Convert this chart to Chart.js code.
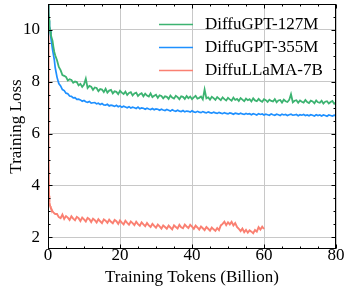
<!DOCTYPE html>
<html>
<head>
<meta charset="utf-8">
<script src="https://cdn.jsdelivr.net/npm/chart.js@4.4.0/dist/chart.umd.min.js"></script>
<style>
html, body { margin: 0; padding: 0; background: #fff; }
#wrap { width: 344px; height: 287px; }
</style>
</head>
<body>
<div id="wrap"><canvas id="lossChart" width="344" height="287"></canvas></div>
<script>
// tick labels
const xTicks = [0, 20, 40, 60, 80];
const yTicks = [2, 4, 6, 8, 10];

// training tokens (billion): dense at the start, then every 0.5
const earlyTokens = [0, 0.1, 0.2, 0.3, 0.4, 0.6, 0.8, 1.0, 1.25, 1.5, 1.75, 2.0];
const gptTokens = earlyTokens.concat(Array.from({ length: 156 }, (_, i) => 2.5 + 0.5 * i));
const llamaTokens = earlyTokens.concat(Array.from({ length: 116 }, (_, i) => 2.5 + 0.5 * i));

const seriesNames = ["DiffuGPT-127M", "DiffuGPT-355M", "DiffuLLaMA-7B"];
const seriesColors = ["#3cb371", "#1e90ff", "#fa8072"];

const loss127M = [
    11.6, 11.1, 10.7, 10.4, 10.15, 9.95, 9.8, 9.7, 9.58, 9.35, 9.15, 9.02,
    8.83, 8.57, 8.45, 8.26, 8.23, 8.19, 8.05, 8.1, 8.07, 7.96,
    8.01, 7.99, 7.86, 7.92, 7.8, 7.89, 8.12, 7.76, 7.84, 7.81,
    7.69, 7.78, 7.76, 7.64, 7.72, 7.7, 7.6, 7.73, 7.58, 7.66,
    7.69, 7.55, 7.63, 7.61, 7.52, 7.65, 7.58, 7.53, 7.62, 7.49,
    7.57, 7.6, 7.47, 7.55, 7.58, 7.45, 7.52, 7.56, 7.44, 7.54,
    7.47, 7.43, 7.55, 7.41, 7.46, 7.5, 7.38, 7.48, 7.45, 7.36,
    7.44, 7.42, 7.34, 7.47, 7.39, 7.35, 7.46, 7.41, 7.33, 7.44,
    7.42, 7.34, 7.45, 7.37, 7.43, 7.33, 7.4, 7.46, 7.35, 7.38,
    7.43, 7.32, 7.7, 7.36, 7.4, 7.31, 7.42, 7.37, 7.3, 7.41,
    7.35, 7.29, 7.4, 7.33, 7.28, 7.38, 7.32, 7.27, 7.39, 7.3,
    7.34, 7.26, 7.37, 7.31, 7.25, 7.35, 7.29, 7.33, 7.24, 7.36,
    7.28, 7.25, 7.34, 7.27, 7.23, 7.33, 7.29, 7.22, 7.31, 7.26,
    7.24, 7.33, 7.21, 7.28, 7.3, 7.2, 7.31, 7.25, 7.22, 7.3,
    7.52, 7.21, 7.27, 7.29, 7.19, 7.28, 7.23, 7.2, 7.3, 7.22,
    7.18, 7.27, 7.24, 7.17, 7.28, 7.21, 7.19, 7.27, 7.16, 7.23,
    7.25, 7.16, 7.22, 7.26, 7.15, 7.2
];

const loss355M = [
    11.6, 11.0, 10.6, 10.35, 10.15, 9.95, 9.7, 9.5, 9.25, 9.05, 8.85, 8.55,
    8.18, 7.93, 7.84, 7.7, 7.66, 7.56, 7.54, 7.45, 7.44, 7.38,
    7.39, 7.32, 7.33, 7.3, 7.25, 7.28, 7.23, 7.21, 7.24, 7.18,
    7.19, 7.2, 7.15, 7.17, 7.12, 7.16, 7.11, 7.1, 7.13, 7.07,
    7.1, 7.08, 7.05, 7.09, 7.04, 7.07, 7.02, 7.06, 7.03, 7.0,
    7.04, 6.99, 7.02, 7.0, 6.97, 7.02, 6.96, 6.99, 6.98, 6.94,
    6.98, 6.95, 6.93, 6.97, 6.92, 6.95, 6.94, 6.9, 6.94, 6.91,
    6.89, 6.93, 6.9, 6.87, 6.92, 6.88, 6.86, 6.9, 6.87, 6.85,
    6.89, 6.84, 6.87, 6.86, 6.83, 6.88, 6.84, 6.82, 6.86, 6.83,
    6.81, 6.85, 6.82, 6.8, 6.84, 6.81, 6.79, 6.83, 6.8, 6.78,
    6.82, 6.79, 6.77, 6.81, 6.78, 6.76, 6.8, 6.78, 6.75, 6.79,
    6.77, 6.75, 6.79, 6.76, 6.74, 6.78, 6.75, 6.77, 6.73, 6.77,
    6.75, 6.72, 6.77, 6.74, 6.76, 6.72, 6.75, 6.73, 6.71, 6.76,
    6.73, 6.71, 6.75, 6.73, 6.7, 6.75, 6.72, 6.74, 6.7, 6.73,
    6.75, 6.71, 6.72, 6.74, 6.69, 6.73, 6.71, 6.74, 6.7, 6.72,
    6.69, 6.73, 6.71, 6.68, 6.73, 6.7, 6.72, 6.68, 6.72, 6.7,
    6.67, 6.72, 6.7, 6.68, 6.71, 6.69
];

const loss7B = [
    11.6, 8.0, 5.2, 3.6, 3.35, 3.2, 3.12, 3.08, 3.0, 2.96, 2.93, 2.9,
    2.9, 2.78, 2.74, 2.88, 2.71, 2.82, 2.76, 2.67, 2.81, 2.72,
    2.66, 2.79, 2.74, 2.63, 2.76, 2.69, 2.61, 2.75, 2.7, 2.59,
    2.72, 2.66, 2.57, 2.7, 2.62, 2.55, 2.69, 2.64, 2.56, 2.68,
    2.6, 2.54, 2.67, 2.62, 2.52, 2.65, 2.57, 2.5, 2.64, 2.56,
    2.49, 2.61, 2.55, 2.47, 2.6, 2.51, 2.45, 2.58, 2.5, 2.43,
    2.55, 2.46, 2.4, 2.52, 2.44, 2.37, 2.49, 2.42, 2.34, 2.46,
    2.4, 2.33, 2.45, 2.38, 2.31, 2.46, 2.4, 2.34, 2.48, 2.39,
    2.35, 2.49, 2.42, 2.36, 2.48, 2.41, 2.33, 2.45, 2.38, 2.3,
    2.42, 2.35, 2.28, 2.4, 2.33, 2.26, 2.38, 2.31, 2.25, 2.36,
    2.28, 2.46, 2.52, 2.6, 2.47, 2.58, 2.5, 2.6, 2.46, 2.55,
    2.4, 2.33, 2.24, 2.34, 2.2, 2.29, 2.18, 2.27, 2.22, 2.16,
    2.28, 2.22, 2.39, 2.3, 2.41, 2.32
];

const serif = "'Liberation Serif', 'DejaVu Serif', serif";

function toPoints(xs, ys) {
    return ys.map((v, i) => ({ x: xs[i], y: v }));
}

// box on all four sides + inward ticks (major and minor), like matplotlib
const frameTicks = {
    id: "frameTicks",
    afterDatasetsDraw(chart) {
        const { ctx, chartArea: a, scales } = chart;
        const sx = scales.x, sy = scales.y;
        const L = Math.round(a.left) + 0.5, R = Math.round(a.right) - 0.5;
        const T = Math.round(a.top) + 0.5, B = Math.round(a.bottom) - 0.5;
        ctx.save();
        ctx.strokeStyle = "#000";
        ctx.lineWidth = 1;
        ctx.beginPath();
        for (let v = xTicks[0]; v <= xTicks[xTicks.length - 1]; v += 5) {
            const len = xTicks.includes(v) ? 4 : 2;
            const px = Math.round(sx.getPixelForValue(v)) + 0.5;
            ctx.moveTo(px, B); ctx.lineTo(px, B - len);
            ctx.moveTo(px, T); ctx.lineTo(px, T + len);
        }
        for (let v = 1.5; v <= 11; v += 0.5) {
            if (v < sy.min || v > sy.max) continue;
            const len = yTicks.includes(v) ? 4 : 2;
            const py = Math.round(sy.getPixelForValue(v)) + 0.5;
            ctx.moveTo(L, py); ctx.lineTo(L + len, py);
            ctx.moveTo(R, py); ctx.lineTo(R - len, py);
        }
        ctx.stroke();
        ctx.strokeRect(L, T, R - L, B - T);
        ctx.restore();
    },
    afterDraw(chart) {
        const ctx = chart.ctx;
        ctx.save();
        ctx.font = "17px " + serif;
        ctx.textBaseline = "middle";
        ctx.fillStyle = "#000";
        chart.data.datasets.forEach((ds, i) => {
            const y = 24 + i * 23;
            ctx.strokeStyle = ds.borderColor;
            ctx.lineWidth = 1.4;
            ctx.beginPath();
            ctx.moveTo(159, y + 0.5);
            ctx.lineTo(193, y + 0.5);
            ctx.stroke();
            ctx.fillText(ds.label, 205, y + 1);
        });
        ctx.restore();
    }
};

new Chart(document.getElementById("lossChart"), {
    type: "line",
    data: {
        datasets: [
            { label: seriesNames[0], data: toPoints(gptTokens, loss127M), borderColor: seriesColors[0], borderWidth: 1.8 },
            { label: seriesNames[1], data: toPoints(gptTokens, loss355M), borderColor: seriesColors[1], borderWidth: 1.7 },
            { label: seriesNames[2], data: toPoints(llamaTokens, loss7B), borderColor: seriesColors[2], borderWidth: 1.9 }
        ]
    },
    options: {
        responsive: false,
        animation: false,
        devicePixelRatio: 1,
        layout: { padding: { top: 4, right: 8, left: 0, bottom: 0 } },
        elements: {
            line: { tension: 0 },
            point: { radius: 0 }
        },
        plugins: {
            legend: { display: false },
            tooltip: { enabled: false }
        },
        scales: {
            x: {
                type: "linear",
                min: 0,
                max: 80,
                afterBuildTicks: s => { s.ticks = xTicks.map(v => ({ value: v })); },
                afterFit: s => { s.height = 38; s.paddingLeft = 0; s.paddingRight = 0; },
                ticks: { color: "#000", font: { family: serif, size: 17 }, padding: -4, maxRotation: 0 },
                grid: { color: "#c8c8c8", lineWidth: 1, drawTicks: false },
                border: { display: false },
                title: {
                    display: true,
                    text: "Training Tokens (Billion)",
                    color: "#000",
                    font: { family: serif, size: 17, lineHeight: 1 },
                    padding: { top: 0, bottom: 1 }
                }
            },
            y: {
                min: 1.55,
                max: 11,
                afterBuildTicks: s => { s.ticks = yTicks.map(v => ({ value: v })); },
                afterFit: s => { s.width = 48; s.paddingTop = 0; s.paddingBottom = 0; },
                ticks: { color: "#000", font: { family: serif, size: 17 }, padding: 8 },
                grid: { color: "#c8c8c8", lineWidth: 1, drawTicks: false },
                border: { display: false },
                title: {
                    display: true,
                    text: "Training Loss",
                    color: "#000",
                    font: { family: serif, size: 17 },
                    padding: { top: 6, bottom: 0 }
                }
            }
        }
    },
    plugins: [frameTicks]
});
</script>
</body>
</html>
